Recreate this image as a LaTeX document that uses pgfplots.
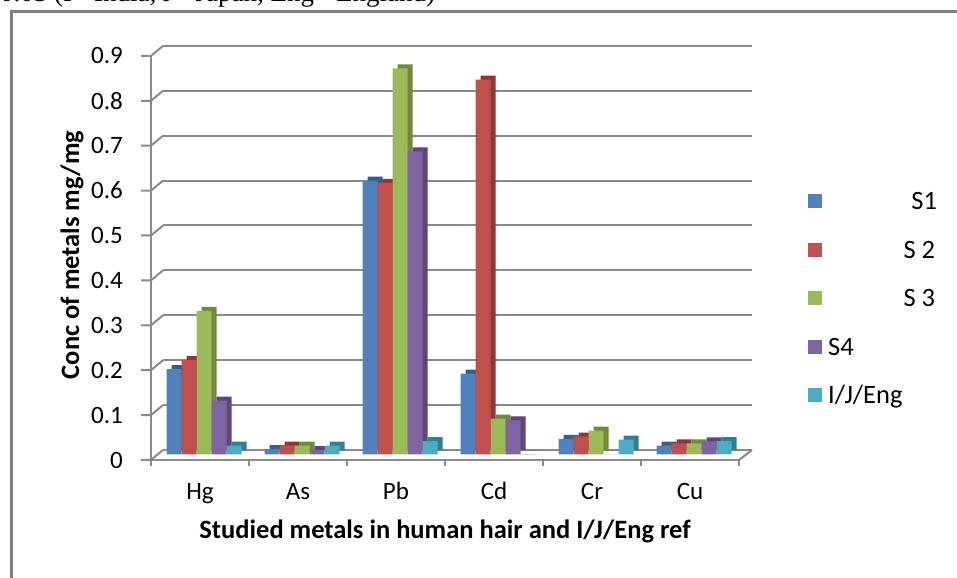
\documentclass[border=0pt]{standalone}
\usepackage{pgfplots}
\pgfplotsset{compat=1.18}
\usepackage{pgfplotstable}
\usepackage{fontspec}
\setmainfont{Carlito}
\newfontfamily\timesfont{Liberation Serif}
\definecolor{c1}{HTML}{4F81BD}
\definecolor{c2}{HTML}{C0504D}
\definecolor{c3}{HTML}{9BBB59}
\definecolor{c4}{HTML}{8064A2}
\definecolor{c5}{HTML}{4BACC6}
\definecolor{c1d}{HTML}{385D8A}
\definecolor{c2d}{HTML}{8C3836}
\definecolor{c3d}{HTML}{71893F}
\definecolor{c4d}{HTML}{5C4776}
\definecolor{c5d}{HTML}{357D91}
\definecolor{gridgray}{HTML}{8A8A8A}
\definecolor{framegray}{HTML}{808080}

\pgfplotstableread{
x S1 S2 S3 S4 IJE
0 0.19 0.21 0.32 0.12 0.02
1 0.012 0.02 0.02 0.01 0.02
2 0.61 0.605 0.86 0.675 0.03
3 0.18 0.835 0.08 0.076 0.001
4 0.035 0.04 0.053 0.0 0.033
5 0.02 0.025 0.025 0.029 0.03
}\datatable

\begin{document}
\begin{tikzpicture}[x=1bp,y=1bp]
\useasboundingbox (0,0) rectangle (957,578);
\draw[framegray, line width=3bp] (11.5,-10) -- (11.5,566.5) -- (970,566.5);
\node[anchor=base west, inner sep=0pt, font=\timesfont\fontsize{27bp}{30bp}\selectfont] at (0,576) {0.05 (I= India, J= Japan, Eng= England)};

% back wall gridlines
\begin{axis}[scale only axis, width=589bp, height=404.1bp, at={(163bp,128bp)}, anchor=south west,
  xmin=-0.5, xmax=5.5, ymin=0, ymax=0.9,
  axis line style={draw=none}, xtick=\empty,
  ytick={0,0.1,0.2,0.3,0.4,0.5,0.6,0.7,0.8,0.9}, yticklabels={},
  tick style={draw=none}, ymajorgrids, major grid style={gridgray, line width=2bp}]
\end{axis}
\foreach \v in {0,1,...,9} {\draw[gridgray, line width=2bp] (141,{118+44.9*\v}) -- (151,{118+44.9*\v}) -- (163,{128+44.9*\v});}
\draw[gridgray, line width=2bp] (739,118) -- (752,128);

% bars
\begin{axis}[scale only axis, width=588bp, height=404.1bp, at={(155.2bp,123.5bp)}, anchor=south west,
  xmin=-0.5, xmax=5.5, ymin=0, ymax=0.9, hide axis, clip=false,
  ybar, bar width=15bp,
  legend style={at={(1.110,0.6484)}, anchor=north west, draw=none, fill=none, inner sep=0pt,
    row sep=27.5bp, font=\fontsize{26.5bp}{30bp}\selectfont,
    nodes={inner sep=0pt, text height=17bp, text depth=4bp, anchor=west},
    /tikz/every odd column/.append style={column sep=6bp}},
  legend cell align=left,
  legend image code/.code={\fill[#1] (0bp,-5bp) rectangle (14bp,9bp);}]
\addplot[ybar, bar shift=-25bp, fill=c1d, draw=none, yshift=4bp, forget plot] table[x=x,y=S1] \datatable;
\addplot[ybar, bar shift=-30bp, fill=c1, draw=none] table[x=x,y=S1] \datatable;
\addlegendentry{\makebox[109bp][r]{S1}}
\addplot[ybar, bar shift=-10bp, fill=c2d, draw=none, yshift=4bp, forget plot] table[x=x,y=S2] \datatable;
\addplot[ybar, bar shift=-15bp, fill=c2, draw=none] table[x=x,y=S2] \datatable;
\addlegendentry{\makebox[107bp][r]{S 2}}
\addplot[ybar, bar shift=5bp, fill=c3d, draw=none, yshift=4bp, forget plot] table[x=x,y=S3] \datatable;
\addplot[ybar, bar shift=0bp, fill=c3, draw=none] table[x=x,y=S3] \datatable;
\addlegendentry{\makebox[107bp][r]{S 3}}
\addplot[ybar, bar shift=20bp, fill=c4d, draw=none, yshift=4bp, forget plot] table[x=x,y=S4] \datatable;
\addplot[ybar, bar shift=15bp, fill=c4, draw=none] table[x=x,y=S4] \datatable;
\addlegendentry{S4}
\addplot[ybar, bar shift=35bp, fill=c5d, draw=none, yshift=4bp, forget plot] table[x=x,y=IJE] \datatable;
\addplot[ybar, bar shift=30bp, fill=c5, draw=none] table[x=x,y=IJE] \datatable;
\addlegendentry{I/J/Eng}
\end{axis}

% boundary ticks on x axis
\begin{axis}[scale only axis, width=588bp, height=404.1bp, at={(151bp,118bp)}, anchor=south west,
  xmin=-0.5, xmax=5.5, ymin=0, ymax=0.9,
  axis x line*=bottom, axis y line=none,
  axis line style={gridgray, line width=2.5bp},
  xtick={-0.5,0.5,1.5,2.5,3.5,4.5,5.5}, xticklabels={},
  tick align=outside, major tick length=6bp,
  tick style={gridgray, line width=2.5bp}]
\end{axis}

% front axis
\begin{axis}[scale only axis, width=588bp, height=404.1bp, at={(151bp,118bp)}, anchor=south west,
  xmin=-0.5, xmax=5.5, ymin=0, ymax=0.9,
  axis x line*=bottom, axis y line*=left,
  axis line style={gridgray, line width=2.5bp},
  xtick={0,1,2,3,4,5}, xticklabels={Hg,As,Pb,Cd,Cr,Cu},
  x tick style={draw=none},
  ytick={0,0.1,0.2,0.3,0.4,0.5,0.6,0.7,0.8,0.9},
  y tick style={draw=none},
  /pgf/number format/assume math mode=true,
  ticklabel style={font=\fontsize{25bp}{29bp}\selectfont},
  yticklabel style={anchor=east, inner sep=0pt, xshift=-28bp},
  xticklabel style={anchor=base, inner sep=0pt, yshift=-40bp},
  xlabel={Studied metals in human hair and I/J/Eng ref},
  ylabel={Conc of metals mg/mg},
  label style={font=\bfseries\fontsize{26.5bp}{30bp}\selectfont},
  xlabel style={at={(axis description cs:0.5,-0.1757)}, anchor=center},
  ylabel style={at={(axis description cs:-0.1344,0.5074)}, anchor=center, rotate=0}]
\end{axis}
\end{tikzpicture}
\end{document}
